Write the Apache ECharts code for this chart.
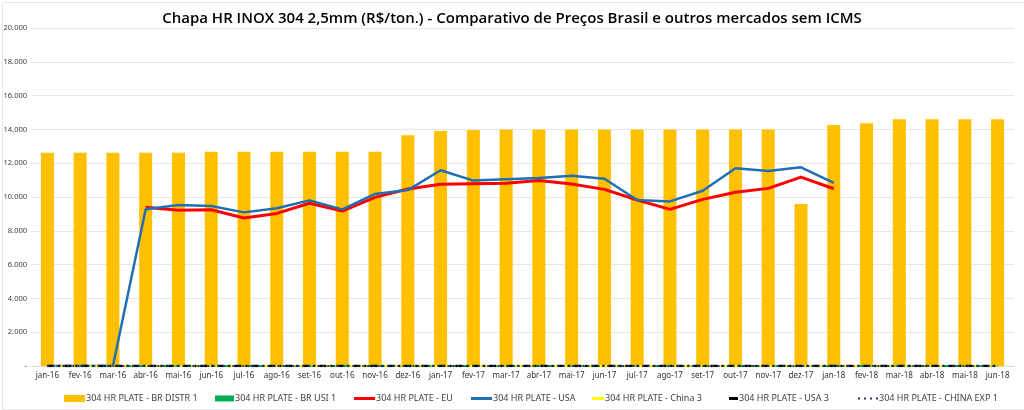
<!DOCTYPE html>
<html><head><meta charset="utf-8">
<script src="https://cdn.jsdelivr.net/npm/echarts@6/dist/echarts.min.js"></script>
<style>html,body{margin:0;padding:0;background:#fff}#c{width:1024px;height:410px}</style>
</head><body><div id="c"></div>
<script>
const categories = ['jan-16','fev-16','mar-16','abr-16','mai-16','jun-16','jul-16','ago-16','set-16','out-16','nov-16','dez-16',
 'jan-17','fev-17','mar-17','abr-17','mai-17','jun-17','jul-17','ago-17','set-17','out-17','nov-17','dez-17',
 'jan-18','fev-18','mar-18','abr-18','mai-18','jun-18'];
const brDistr = [12620,12620,12620,12620,12620,12680,12680,12680,12680,12680,12680,13650,
 13900,13970,14000,14000,14000,14000,14000,14000,14000,14000,14000,9590,
 14260,14360,14600,14600,14600,14600];
const brUsi = [0,0,0,0,0,0,0,0,0,0,0,0,0,0,0,0,0,0,0,0,0,0,0,0,0,0,0,0,0,0];
const eu = [null,null,null,9390,9210,9250,8760,9030,9630,9170,9980,10470,
 10750,10790,10810,10980,10770,10450,9820,9270,9860,10280,10510,11180,10490,null,null,null,null,null];
const usa = [0,0,0,9270,9530,9470,9090,9330,9800,9270,10180,10410,
 11580,10970,11050,11120,11260,11080,9820,9740,10370,11700,11540,11760,10830,null,null,null,null,null];
const china3 = [0,0,0,0,0,0,0,0,0,0,0,0,0,0,0,0,0,0,0,0,0,0,0,0,0,0,0,0,0,0];
const usa3 = [0,0,0,0,0,0,0,0,0,0,0,0,0,0,0,0,0,0,0,0,0,0,0,0,0,0,0,0,0,0];
const chinaExp = [0,0,0,0,0,0,0,0,0,0,0,0,0,0,0,0,0,0,0,0,0,0,0,0,0,0,0,0,0,0];
const yTicks = [0,2000,4000,6000,8000,10000,12000,14000,16000,18000,20000];

const names = ['304 HR PLATE - BR DISTR 1','304 HR PLATE - BR USI 1','304 HR PLATE - EU','304 HR PLATE - USA',
 '304 HR PLATE - China 3','304 HR PLATE - USA 3','304 HR PLATE - CHINA EXP 1'];

const fmt = v => v === 0 ? '-' : (v/1000).toFixed(3);
const legTxt = {fontFamily:'Noto Sans', fontSize:9, color:'#404040'};
const legendDefs = [
  {left:59, w:21, h:7, icon:'rect'},
  {left:210, w:19, h:6, icon:'rect'},
  {left:349, w:21, h:3, icon:'rect'},
  {left:466, w:21, h:3, icon:'rect'},
  {left:587, w:12, h:3, icon:'rect'},
  {left:724, w:9, h:3, icon:'rect'},
  {left:853, w:20, h:2, icon:'path://M0,0h2v2h-2z M6,0h2v2h-2z M12,0h2v2h-2z M18,0h2v2h-2z'}
];
const legends = legendDefs.map((d,i)=>({
  data:[names[i]], left:d.left, top:389, icon:d.icon, itemWidth:d.w, itemHeight:d.h,
  itemGap:0, textStyle:Object.assign({padding:[0,0,0,-4]}, legTxt), selectedMode:false
}));

const chart = echarts.init(document.getElementById('c'), null, {renderer:'canvas'});
chart.setOption({
  animation:false,
  backgroundColor:'#fff',
  graphic:[{type:'rect', left:0, top:0, shape:{x:0.5,y:0.5,width:1023,height:407}, silent:true,
    style:{fill:'none', stroke:'#e8e8e8', lineWidth:1}}],
  title:{text:'Chapa HR INOX 304 2,5mm (R$/ton.) - Comparativo de Preços Brasil e outros mercados sem ICMS',
    left:'center', top:6, textStyle:{fontFamily:'Open Sans', fontWeight:600, fontSize:15, color:'#000'}},
  legend:legends,
  grid:{left:31, right:10, top:28, bottom:44},
  xAxis:{type:'category', data:categories, boundaryGap:true,
    axisLine:{lineStyle:{color:'#d9d9d9'}}, axisTick:{show:false},
    axisLabel:{fontFamily:'Noto Sans', fontSize:8, color:'#333', margin:6, interval:0}},
  yAxis:{type:'value', min:0, max:20000, interval:2000,
    axisLine:{show:false}, axisTick:{show:false},
    splitLine:{lineStyle:{color:'#e6e6e6', width:1}},
    axisLabel:{fontFamily:'Noto Sans', fontSize:7.5, color:'#404040', margin:4, formatter:fmt}},
  series:[
    {name:names[0], type:'bar', data:brDistr, barWidth:13, itemStyle:{color:'#FFC000'}},
    {name:names[1], type:'line', data:brUsi, symbol:'none', lineStyle:{color:'#00B050', width:2}, itemStyle:{color:'#00B050'}},
    {name:names[2], type:'line', data:eu, symbol:'none', lineStyle:{color:'#FF0000', width:3}, itemStyle:{color:'#FF0000'}},
    {name:names[3], type:'line', data:usa, symbol:'none', lineStyle:{color:'#1F6FB4', width:2.5}, itemStyle:{color:'#1F6FB4'}},
    {name:names[4], type:'line', data:china3, symbol:'none', lineStyle:{color:'#FFFF00', width:2, type:'dashed'}, itemStyle:{color:'#FFFF00'}},
    {name:names[5], type:'line', data:usa3, symbol:'none', lineStyle:{color:'#000000', width:2.5, type:[7,4,2,4]}, itemStyle:{color:'#000000'}},
    {name:names[6], type:'line', data:chinaExp, symbol:'none', lineStyle:{color:'#1F3864', width:2, type:[2,3]}, itemStyle:{color:'#1F3864'}}
  ]
});
</script></body></html>
